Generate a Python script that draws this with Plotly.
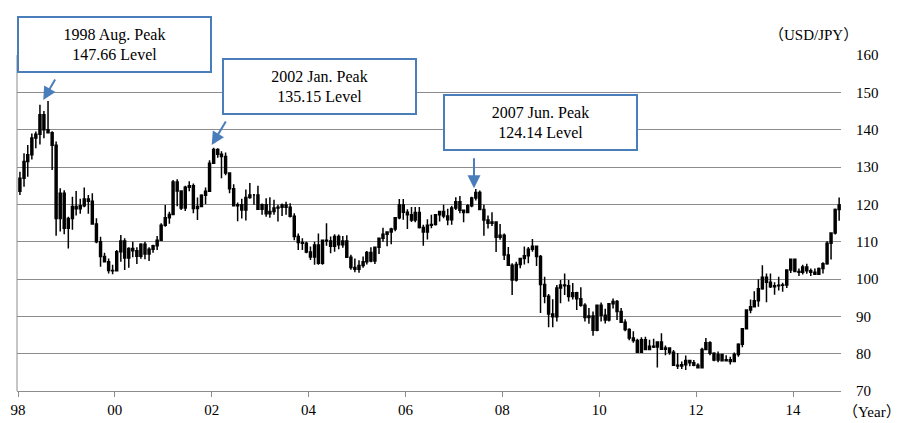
import pandas as pd
import plotly.graph_objects as go

# Monthly USD/JPY candles, Jan 1998 - Dec 2014 (one row of 12 per year)
opens = [
    123.5, 127.0, 131.5, 133.3, 137.8, 138.8, 144.0, 140.0, 139.2, 135.8, 116.2, 123.0,
    113.6, 116.2, 119.4, 118.8, 119.6, 121.4, 120.8, 114.7, 110.0, 106.0, 104.6, 102.3,
    102.2, 107.3, 110.2, 105.6, 108.2, 107.6, 106.1, 109.3, 106.7, 108.0, 108.9, 110.4,
    114.4, 116.4, 117.3, 126.0, 123.6, 119.0, 124.6, 125.0, 118.9, 119.4, 122.4, 123.5,
    131.0, 134.7, 133.4, 132.8, 128.4, 124.2, 119.6, 119.9, 118.5, 121.8, 122.5, 122.5,
    118.7, 119.9, 117.5, 118.1, 119.0, 119.2, 119.8, 119.2, 116.8, 111.4, 109.8, 109.6,
    107.2, 105.9, 109.1, 104.2, 110.4, 110.2, 108.8, 111.4, 109.2, 110.2, 105.8, 103.1,
    102.6, 103.6, 104.6, 107.1, 104.8, 108.5, 110.9, 112.0, 112.6, 113.4, 116.4, 119.8,
    117.9, 117.2, 115.8, 117.8, 113.8, 112.6, 114.4, 114.6, 117.2, 118.1, 116.9, 115.9,
    119.0, 120.7, 118.4, 117.8, 119.6, 121.7, 123.2, 118.6, 115.8, 114.9, 115.3, 111.2,
    111.7, 106.4, 103.7, 99.7, 103.9, 105.5, 106.2, 108.0, 108.8, 106.0, 98.5, 95.4,
    90.6, 89.9, 97.6, 98.4, 98.2, 95.3, 96.3, 94.7, 93.0, 89.7, 90.1, 86.3,
    93.0, 90.3, 89.0, 93.4, 94.0, 91.3, 88.4, 86.5, 84.2, 83.5, 80.4, 83.7,
    81.1, 82.0, 81.8, 83.1, 81.2, 81.5, 80.4, 76.9, 76.7, 77.0, 78.2, 77.6,
    76.9, 76.2, 81.1, 82.9, 80.1, 78.3, 79.8, 78.1, 78.4, 77.9, 79.8, 82.5,
    86.7, 91.7, 92.6, 94.2, 97.4, 100.5, 99.1, 97.9, 98.2, 98.3, 98.4, 102.4,
    105.3, 102.0, 101.8, 103.2, 102.2, 101.8, 101.3, 102.8, 104.1, 109.6, 112.3, 118.6,
]
highs = [
    128.7, 133.7, 135.9, 139.0, 139.5, 146.7, 145.0, 147.66, 139.6, 136.8, 124.3, 123.8,
    116.7, 122.0, 123.6, 121.5, 124.5, 122.5, 123.0, 116.3, 111.3, 107.0, 105.5, 103.8,
    107.8, 111.8, 110.9, 108.5, 110.0, 108.5, 109.6, 110.0, 108.5, 109.2, 111.5, 114.9,
    119.8, 118.0, 126.5, 126.7, 123.8, 125.0, 126.2, 125.6, 121.8, 122.7, 124.5, 131.8,
    135.15, 135.0, 134.2, 133.9, 128.6, 125.4, 120.5, 121.5, 124.0, 125.7, 122.8, 125.0,
    120.2, 121.6, 121.9, 121.2, 119.9, 120.2, 120.7, 120.3, 117.6, 112.2, 110.9, 110.0,
    108.7, 110.0, 112.2, 110.5, 114.9, 111.4, 112.0, 111.9, 111.5, 111.7, 106.5, 105.5,
    105.0, 106.0, 107.5, 108.5, 108.5, 111.0, 113.7, 112.8, 113.7, 116.4, 121.4, 121.4,
    118.7, 119.3, 119.3, 119.3, 114.5, 116.0, 117.2, 117.4, 118.2, 119.9, 118.8, 119.6,
    121.9, 122.2, 118.6, 120.0, 122.0, 124.14, 123.7, 119.9, 117.0, 117.9, 115.4, 114.7,
    112.2, 108.6, 104.2, 104.6, 105.5, 108.7, 108.6, 110.7, 109.0, 106.4, 100.6, 96.0,
    94.6, 98.4, 99.7, 101.5, 99.7, 98.9, 96.6, 97.8, 93.5, 92.2, 91.3, 93.0,
    93.7, 92.0, 93.6, 94.8, 94.4, 92.2, 89.2, 86.8, 86.0, 84.0, 84.4, 84.5,
    83.7, 84.0, 83.3, 85.5, 82.2, 81.7, 81.0, 80.2, 77.9, 79.5, 78.3, 78.3,
    77.4, 81.6, 84.2, 83.3, 80.4, 80.6, 80.0, 79.6, 79.2, 80.3, 82.8, 86.8,
    91.8, 94.5, 96.7, 99.9, 103.7, 101.5, 101.5, 99.1, 100.6, 99.0, 102.4, 105.4,
    105.4, 102.8, 103.8, 104.1, 102.8, 102.8, 103.1, 104.5, 110.1, 112.5, 118.9, 121.8,
]
lows = [
    122.5, 124.7, 127.4, 132.0, 135.0, 136.0, 137.7, 139.0, 129.2, 111.6, 112.7, 112.0,
    108.2, 113.2, 117.0, 117.5, 119.2, 117.5, 114.5, 109.6, 103.3, 104.4, 101.5, 101.3,
    102.0, 104.6, 102.4, 103.0, 105.8, 104.0, 105.4, 105.3, 104.8, 107.0, 107.8, 110.2,
    114.0, 114.8, 117.2, 119.5, 118.5, 118.2, 123.5, 117.6, 115.8, 119.2, 120.0, 123.3,
    130.8, 132.5, 127.0, 127.8, 123.0, 119.4, 115.5, 116.2, 115.7, 121.5, 119.9, 118.6,
    117.2, 116.7, 116.4, 117.2, 115.4, 116.9, 117.2, 116.5, 110.4, 107.8, 107.8, 106.9,
    105.1, 103.8, 103.8, 103.8, 108.9, 106.9, 107.3, 108.0, 108.4, 105.7, 102.5, 101.8,
    101.7, 103.0, 103.9, 104.5, 104.0, 106.7, 110.0, 108.8, 109.3, 112.8, 116.0, 115.9,
    113.4, 115.3, 115.2, 113.5, 108.9, 110.6, 113.6, 114.3, 115.4, 116.3, 114.4, 114.5,
    118.5, 117.6, 115.2, 117.6, 119.2, 121.0, 118.5, 111.6, 113.5, 114.2, 107.2, 110.5,
    105.1, 103.6, 95.7, 99.3, 102.9, 103.9, 104.2, 107.3, 103.5, 90.9, 93.5, 87.1,
    87.1, 88.6, 93.5, 95.7, 94.0, 94.5, 91.7, 92.6, 88.6, 88.0, 84.8, 86.0,
    88.6, 88.1, 88.6, 92.1, 89.0, 88.2, 86.0, 83.6, 82.9, 80.2, 80.3, 81.2,
    81.4, 81.5, 76.3, 81.0, 79.6, 79.7, 76.8, 75.9, 75.9, 75.6, 76.6, 76.6,
    76.0, 76.1, 80.9, 79.6, 78.0, 77.7, 77.9, 77.9, 77.1, 77.9, 79.2, 81.7,
    86.5, 90.8, 92.6, 92.6, 97.1, 93.8, 97.6, 95.8, 96.9, 96.6, 97.6, 101.6,
    101.8, 100.8, 101.2, 101.4, 100.8, 101.2, 101.1, 101.5, 103.8, 105.2, 111.9, 115.6,
]
closes = [
    127.0, 131.5, 133.3, 137.8, 138.8, 144.0, 140.0, 139.2, 135.8, 116.2, 123.0, 113.6,
    116.2, 119.4, 118.8, 119.6, 121.4, 120.8, 114.7, 110.0, 106.0, 104.6, 102.3, 102.2,
    107.3, 110.2, 105.6, 108.2, 107.6, 106.1, 109.3, 106.7, 108.0, 108.9, 110.4, 114.4,
    116.4, 117.3, 126.0, 123.6, 119.0, 124.6, 125.0, 118.9, 119.4, 122.4, 123.5, 131.0,
    134.7, 133.4, 132.8, 128.4, 124.2, 119.6, 119.9, 118.5, 121.8, 122.5, 122.5, 118.7,
    119.9, 117.5, 118.1, 119.0, 119.2, 119.8, 119.2, 116.8, 111.4, 109.8, 109.6, 107.2,
    105.9, 109.1, 104.2, 110.4, 110.2, 108.8, 111.4, 109.2, 110.2, 105.8, 103.1, 102.6,
    103.6, 104.6, 107.1, 104.8, 108.5, 110.9, 112.0, 112.6, 113.4, 116.4, 119.8, 117.9,
    117.2, 115.8, 117.8, 113.8, 112.6, 114.4, 114.6, 117.2, 118.1, 116.9, 115.9, 119.0,
    120.7, 118.4, 117.8, 119.6, 121.7, 123.2, 118.6, 115.8, 114.9, 115.3, 111.2, 111.7,
    106.4, 103.7, 99.7, 103.9, 105.5, 106.2, 108.0, 108.8, 106.0, 98.5, 95.4, 90.6,
    89.9, 97.6, 98.4, 98.2, 95.3, 96.3, 94.7, 93.0, 89.7, 90.1, 86.3, 93.0,
    90.3, 89.0, 93.4, 94.0, 91.3, 88.4, 86.5, 84.2, 83.5, 80.4, 83.7, 81.1,
    82.0, 81.8, 83.1, 81.2, 81.5, 80.4, 76.9, 76.7, 77.0, 78.2, 77.6, 76.9,
    76.2, 81.1, 82.9, 80.1, 78.3, 79.8, 78.1, 78.4, 77.9, 79.8, 82.5, 86.7,
    91.7, 92.6, 94.2, 97.4, 100.5, 99.1, 97.9, 98.2, 98.3, 98.4, 102.4, 105.3,
    102.0, 101.8, 103.2, 102.2, 101.8, 101.3, 102.8, 104.1, 109.6, 112.3, 118.6, 119.8,
]

months = pd.date_range("1998-01-01", periods=len(closes), freq="MS") + pd.Timedelta(days=14)

year_ticks = ["1998-01-01", "2000-01-01", "2002-01-01", "2004-01-01", "2006-01-01",
              "2008-01-01", "2010-01-01", "2012-01-01", "2014-01-01"]
year_labels = ["98", "00", "02", "04", "06", "08", "10", "12", "14"]
price_ticks = [70, 80, 90, 100, 110, 120, 130, 140, 150, 160]

peak_texts = ["1998 Aug. Peak<br>147.66 Level",
              "2002 Jan. Peak<br>135.15 Level",
              "2007 Jun. Peak<br>124.14 Level"]

SERIF = "Liberation Serif, Times New Roman, Noto Sans CJK JP, serif"
BLUE = "#4a7ebb"
GRID = "#8c8c8c"

fig = go.Figure()
fig.add_trace(go.Candlestick(
    x=months, open=opens, high=highs, low=lows, close=closes,
    increasing=dict(line=dict(color="black", width=1.5), fillcolor="black"),
    decreasing=dict(line=dict(color="black", width=1.5), fillcolor="black"),
    whiskerwidth=0, showlegend=False, hoverinfo="skip",
))

fig.update_layout(
    width=901, height=423,
    margin=dict(l=17, r=60, t=55, b=32),
    paper_bgcolor="white", plot_bgcolor="white",
    font=dict(family=SERIF, size=15, color="black"),
    boxgap=0.25,
    showlegend=False,
)
fig.update_xaxes(
    type="date", range=["1997-12-24", "2014-12-29"],
    rangeslider_visible=False, automargin=False,
    tickmode="array", tickvals=year_ticks, ticktext=year_labels,
    ticks="outside", ticklen=5, tickcolor=GRID, tickwidth=1,
    showline=True, linecolor=GRID, linewidth=1,
    showgrid=False, zeroline=False,
    tickfont=dict(family=SERIF, size=15, color="black"),
)
fig.update_yaxes(
    side="right", range=[70, 160], automargin=False,
    tickmode="array", tickvals=price_ticks,
    showgrid=True, gridcolor=GRID, gridwidth=1.2,
    showline=False, zeroline=False, ticks="",
    ticklabelstandoff=14,
    tickfont=dict(family=SERIF, size=15, color="black"),
)

# left vertical axis line
fig.add_shape(type="line", xref="paper", yref="paper", x0=0, x1=0, y0=0, y1=1,
              line=dict(color=GRID, width=1))

# annotation boxes (centers in paper coords)
boxes = [(0.1183, 1.0313), (0.3671, 0.9063), (0.6359, 0.7991)]
for (bx, by), txt in zip(boxes, peak_texts):
    fig.add_annotation(
        xref="paper", yref="paper", x=bx, y=by, xanchor="center", yanchor="middle",
        text=txt, showarrow=False, align="center",
        font=dict(family=SERIF, size=16, color="black"),
        bgcolor="white", bordercolor=BLUE, borderwidth=2, borderpad=0,
        width=191, height=53,
    )

# arrows: head in paper coords, tail as pixel offset
arrows = [(0.0319, 0.8661, 12.7, -22), (0.2363, 0.7321, 15, -25), (0.5546, 0.6033, 0, -31.6)]
for hx, hy, ax, ay in arrows:
    fig.add_annotation(
        xref="paper", yref="paper", x=hx, y=hy, ax=ax, ay=ay, text="",
        showarrow=True, arrowhead=2, arrowsize=1.3, arrowwidth=2, arrowcolor=BLUE,
        standoff=0,
    )

fig.add_annotation(xref="paper", yref="paper", x=1.023, y=1.0595, xanchor="right",
                   yanchor="middle", text="（USD/JPY）", showarrow=False,
                   font=dict(family=SERIF, size=15, color="black"))
fig.add_annotation(xref="paper", yref="paper", x=1.0, y=-0.0625, xanchor="left",
                   yanchor="middle", text="（Year）", showarrow=False,
                   font=dict(family=SERIF, size=15, color="black"))

fig.write_html("out.html")
